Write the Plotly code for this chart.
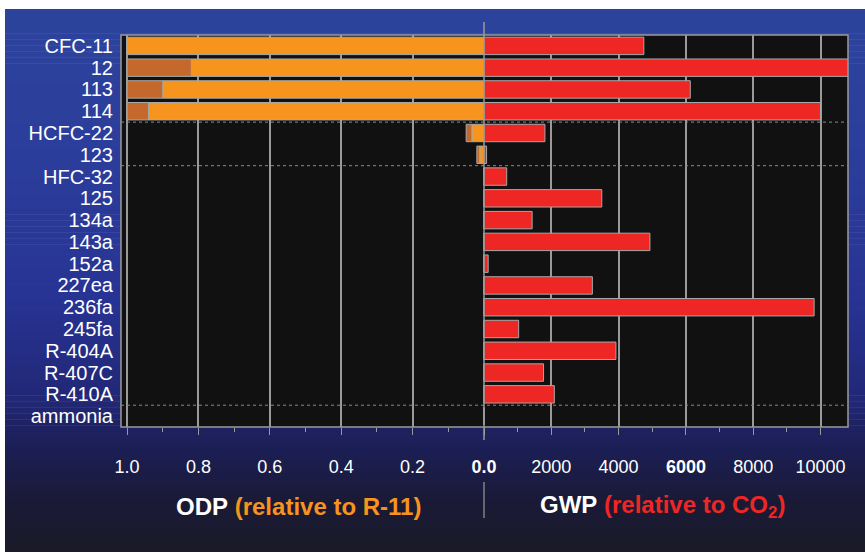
import plotly.graph_objects as go

# ---- data ----
refrigerants = ["CFC-11", "12", "113", "114", "HCFC-22", "123", "HFC-32", "125", "134a",
                "143a", "152a", "227ea", "236fa", "245fa", "R-404A", "R-407C", "R-410A", "ammonia"]
odp_low = [1.0, 0.82, 0.90, 0.94, 0.034, 0.012, 0, 0, 0, 0, 0, 0, 0, 0, 0, 0, 0, 0]
odp_high = [1.0, 1.0, 1.0, 1.0, 0.05, 0.02, 0, 0, 0, 0, 0, 0, 0, 0, 0, 0, 0, 0]
gwp = [4750, 10900, 6130, 10000, 1810, 77, 675, 3500, 1430, 4930, 124, 3220, 9810, 1030,
       3920, 1770, 2090, 0]
odp_ticks = [1.0, 0.8, 0.6, 0.4, 0.2, 0.0]
odp_ticktext = ["1.0", "0.8", "0.6", "0.4", "0.2", "<b>0.0</b>"]
gwp_ticks = [2000, 4000, 6000, 8000, 10000]
gwp_ticktext = ["2000", "4000", "<b>6000</b>", "8000", "10000"]

W, H = 865, 552
PL, PC, PR = 121, 484, 848   # plot left, center, right (px)
PT, PB = 35, 427             # plot top, bottom (px)

ORANGE = "#f7941d"
DARK_OR = "#c4692b"
RED = "#ee2724"
OUTLINE = "#a8a8a8"
GRID = "#9a9a9a"
FONT = "Liberation Sans Narrow, Arial Narrow, Liberation Sans, Arial, sans-serif"

fig = go.Figure()

fig.add_trace(go.Bar(y=refrigerants, x=odp_low, orientation="h", xaxis="x", yaxis="y",
                     marker=dict(color=ORANGE, line=dict(color=OUTLINE, width=1)),
                     width=0.8, showlegend=False))
fig.add_trace(go.Bar(y=refrigerants, x=[h - l for h, l in zip(odp_high, odp_low)], base=odp_low,
                     orientation="h", xaxis="x", yaxis="y",
                     marker=dict(color=DARK_OR, line=dict(color=OUTLINE, width=1)),
                     width=0.8, showlegend=False))
fig.add_trace(go.Bar(y=refrigerants, x=gwp, orientation="h", xaxis="x2", yaxis="y",
                     marker=dict(color=RED, line=dict(color=OUTLINE, width=1)),
                     width=0.8, showlegend=False))
# arrow for off-scale bar
over = [(r, g) for r, g in zip(refrigerants, gwp) if g > 10800]
fig.add_trace(go.Scatter(y=[r for r, g in over], x=[10880 for r, g in over], xaxis="x2", yaxis="y",
                         mode="markers", cliponaxis=False,
                         marker=dict(symbol="triangle-right", size=9, color=RED),
                         showlegend=False, hoverinfo="skip"))

shapes = []
grad = [(9, (45, 68, 157)), (150, (44, 62, 155)), (300, (40, 52, 148)), (400, (34, 40, 118)),
        (450, (28, 31, 84)), (500, (26, 27, 56)), (552, (26, 26, 40))]
n = 90
for i in range(n):
    y0 = 9 + (H - 9) * i / n
    y1 = 9 + (H - 9) * (i + 1) / n
    ym = (y0 + y1) / 2
    for (a, ca), (b, cb) in zip(grad[:-1], grad[1:]):
        if a <= ym <= b:
            t = (ym - a) / (b - a)
            c = tuple(int(ca[k] + (cb[k] - ca[k]) * t) for k in range(3))
            break
    shapes.append(dict(type="rect", xref="paper", yref="paper", layer="below",
                       x0=5 / W, x1=1.01, y0=1 - y1 / H - 0.001, y1=1 - y0 / H,
                       fillcolor="rgb(%d,%d,%d)" % c, line=dict(width=0)))
shapes.append(dict(type="rect", xref="paper", yref="paper", layer="below",
                   x0=PL / W, x1=PR / W, y0=1 - PB / H, y1=1 - PT / H,
                   fillcolor="#111111", line=dict(width=0)))
shapes.append(dict(type="rect", xref="paper", yref="paper", layer="above",
                   x0=PL / W, x1=PR / W, y0=1 - PB / H, y1=1 - PT / H,
                   line=dict(color=GRID, width=1.5)))
for yv in [3.5, 5.5, 16.5]:
    shapes.append(dict(type="line", xref="paper", yref="y", x0=PL / W, x1=PR / W, y0=yv, y1=yv,
                       line=dict(color="#8a8a8a", width=1, dash="dot"), layer="above"))
shapes.append(dict(type="line", xref="paper", yref="paper", x0=PC / W, x1=PC / W,
                   y0=1 - 440 / H, y1=1 - 22 / H, line=dict(color=GRID, width=1.5)))
shapes.append(dict(type="line", xref="paper", yref="paper", x0=PC / W, x1=PC / W,
                   y0=1 - 518 / H, y1=1 - 482 / H, line=dict(color=GRID, width=1.2)))

ax_common = dict(showgrid=True, gridcolor=GRID, gridwidth=1.5, zeroline=False, showline=False,
                 automargin=False,
                 ticks="outside", ticklen=7, tickcolor=GRID, tickwidth=1.2,
                 ticklabelstandoff=16,
                 tickfont=dict(family=FONT, size=18, color="white"))

fig.update_layout(
    width=W, height=H, autosize=False, margin=dict(l=0, r=0, t=0, b=0, pad=0),
    paper_bgcolor="white", plot_bgcolor="rgba(0,0,0,0)",
    barmode="overlay", bargap=0.2,
    xaxis=dict(domain=[PL / W, PC / W], range=[1.017, 0], anchor="y",
               tickmode="array", tickvals=odp_ticks, ticktext=odp_ticktext,
               minor=dict(dtick=0.1, ticks="outside", ticklen=4, tickcolor=GRID, showgrid=False),
               **ax_common),
    xaxis2=dict(domain=[PC / W, PR / W], range=[0, 10817], anchor="y",
                tickmode="array", tickvals=gwp_ticks, ticktext=gwp_ticktext,
                minor=dict(dtick=1000, ticks="outside", ticklen=4, tickcolor=GRID, showgrid=False),
                **ax_common),
    yaxis=dict(domain=[1 - PB / H, 1 - PT / H], range=[17.5, -0.5], anchor="x",
               type="category", tickmode="array", tickvals=refrigerants, ticktext=refrigerants,
               showgrid=False, zeroline=False, showline=False, ticks="", automargin=False,
               ticklabelstandoff=7,
               tickfont=dict(family="Liberation Sans, Arial, sans-serif", size=20, color="white")),
    shapes=shapes,
    annotations=[
        dict(xref="paper", yref="paper", x=298 / W, y=1 - 506 / H, showarrow=False,
             xanchor="center", yanchor="middle",
             text="<b>ODP</b> <span style='color:%s'><b>(relative to R-11)</b></span>" % ORANGE,
             font=dict(family=FONT, size=24, color="white")),
        dict(xref="paper", yref="paper", x=662 / W, y=1 - 506 / H, showarrow=False,
             xanchor="center", yanchor="middle",
             text="<b>GWP</b> <span style='color:%s'><b>(relative to CO<sub>2</sub>)</b></span>" % RED,
             font=dict(family=FONT, size=24, color="white")),
    ],
)

post = ("document.body.style.margin='0';document.body.style.padding='0';"
        "document.documentElement.style.overflow='hidden';document.body.style.overflow='hidden';")
fig.write_html("out.html", post_script=post,
               config={"responsive": False, "displayModeBar": False})
